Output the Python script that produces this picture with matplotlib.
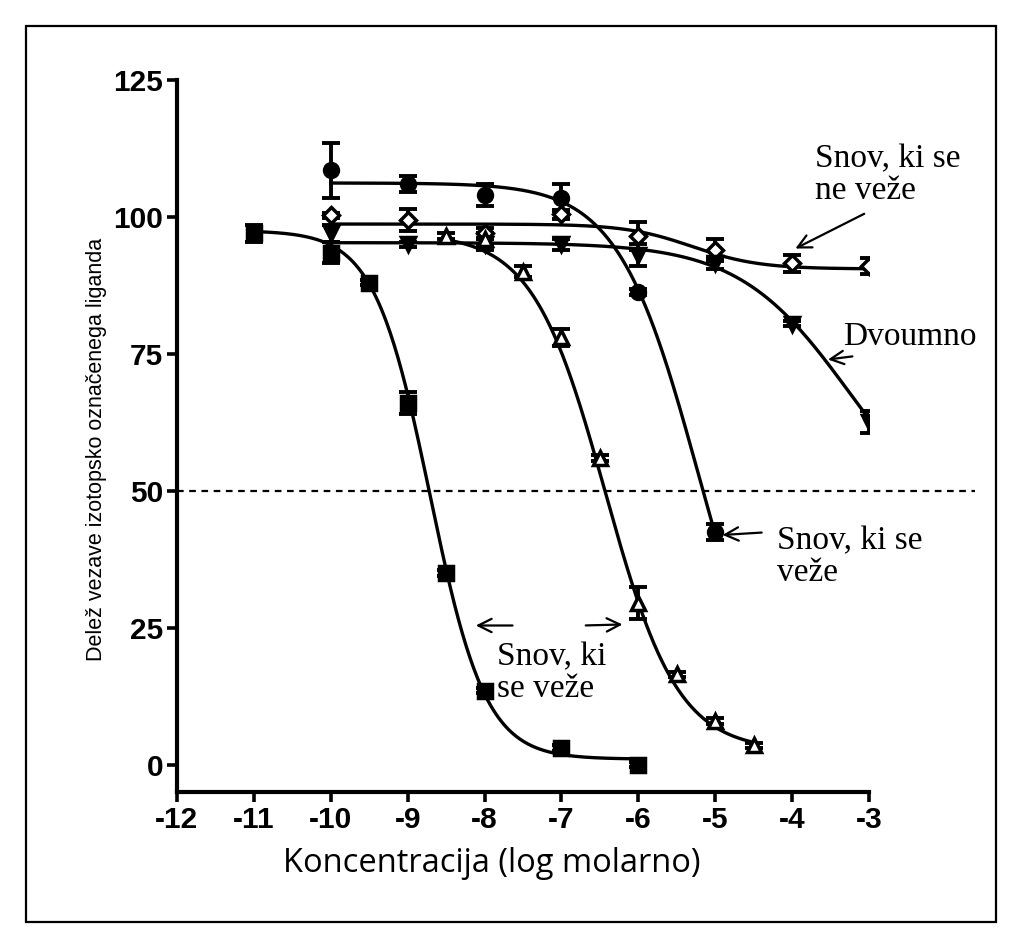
import matplotlib
matplotlib.use('Agg')
import matplotlib.pyplot as plt
from matplotlib.patches import Rectangle
import numpy as np

plt.rcParams['axes.unicode_minus'] = False

# data (log molar concentration, % bound)
sq_x = [-11, -10, -9.5, -9, -8.5, -8, -7, -6]
sq_y = [97, 93.5, 88, 66, 35, 13.5, 3, 0]
sq_err = [1.5, 2, 0.5, 2, 0.5, 0.5, 0.5, 0.5]

ci_x = [-10, -9, -8, -7, -6, -5]
ci_y = [108.5, 106, 104, 103.5, 86.3, 42.5]
ci_err = [5, 1.5, 2, 2.5, 0.5, 1.5]

di_x = [-10, -9, -8, -7, -6, -5, -4, -3]
di_y = [100.3, 99.5, 97, 100.5, 96.5, 94, 91.5, 91]
di_err = [0.5, 2, 1, 0.8, 2.5, 2, 1.5, 1.5]

vt_x = [-10, -9, -8, -7, -6, -5, -4, -3]
vt_y = [97, 95, 95, 95, 93, 91.5, 80.5, 62.5]
vt_err = [1.5, 0.5, 1, 1, 2, 1, 0.5, 2]

tr_x = [-8.5, -8, -7.5, -7, -6.5, -6, -5.5, -5, -4.5]
tr_y = [96.5, 96, 90, 78, 56, 29.5, 16.5, 8, 3.5]
tr_err = [0.5, 1, 1, 1.5, 0.5, 3, 0.5, 0.5, 0.5]

# sigmoidal fit parameters: top, bottom, logIC50, hill slope
sq_fit = [97.5, 1.0, -8.71, 1.2]
ci_fit = [106.2, 0.0, -5.22, 0.83]
di_fit = [98.7, 90.5, -5.3, 1.0]
vt_fit = [95.3, 40.0, -3.24, 0.6]
tr_fit = [97.0, 2.5, -6.43, 0.92]


def curve(fit, x):
    top, bottom, ic50, h = fit
    return bottom + (top - bottom) / (1 + 10 ** ((x - ic50) * h))


fig = plt.figure(figsize=(10.22, 9.49), dpi=100)
fig.patches.append(Rectangle((26 / 1022, 1 - 922 / 949), 970 / 1022, 896 / 949,
                             transform=fig.transFigure, fill=False,
                             edgecolor='black', linewidth=1.6))
ax = fig.add_axes([177 / 1022, 1 - 792 / 949, 692 / 1022, 712 / 949])

series = [
    (sq_x, sq_y, sq_err, sq_fit, 's', 'black'),
    (ci_x, ci_y, ci_err, ci_fit, 'o', 'black'),
    (di_x, di_y, di_err, di_fit, 'D', 'white'),
    (vt_x, vt_y, vt_err, vt_fit, 'v', 'black'),
    (tr_x, tr_y, tr_err, tr_fit, '^', 'white'),
]
for xs, ys, errs, fit, mk, fc in series:
    xx = np.linspace(min(xs), max(xs), 300)
    ax.plot(xx, curve(fit, xx), color='black', linewidth=2.4, zorder=2)
    ax.errorbar(xs, ys, yerr=errs, fmt='none', ecolor='black', elinewidth=2.8,
                capsize=6.5, capthick=2.8, zorder=3)
    ms = 8 if mk == 'D' else 10
    ax.plot(xs, ys, linestyle='none', marker=mk, markersize=ms,
            markerfacecolor=fc, markeredgecolor='black', markeredgewidth=2.5,
            zorder=4)

# 50 % line
ax.plot([-12, -1.62], [50, 50], linestyle=(0, (3, 2.5)), color='black',
        linewidth=1.6, clip_on=False, zorder=1)

ax.set_xlim(-12, -3)
ax.set_ylim(-5, 125)
ax.set_xticks(range(-12, -2))
ax.set_yticks([0, 25, 50, 75, 100, 125])
ax.spines['top'].set_visible(False)
ax.spines['right'].set_visible(False)
ax.spines['left'].set_linewidth(3)
ax.spines['bottom'].set_linewidth(3)
ax.tick_params(direction='out', length=7, width=2.6, pad=3)
for lab in ax.get_xticklabels() + ax.get_yticklabels():
    lab.set_fontfamily('Liberation Sans')
    lab.set_fontweight('bold')
    lab.set_fontsize(21.5)

fig.text(492 / 1022, 1 - 864 / 949, 'Koncentracija (log molarno)', fontsize=23.5,
         family=['Open Sans', 'DejaVu Sans'], ha='center', va='center')
fig.text(97 / 1022, 1 - 449 / 949, 'Delež vezave izotopsko označenega liganda',
         fontsize=15.5, rotation=90, ha='center', va='center',
         family=['Liberation Sans Narrow', 'Liberation Sans'])

serif = ['Liberation Serif', 'DejaVu Serif']
tkw = dict(fontsize=24, family=serif, va='center', ha='left', clip_on=False,
           linespacing=1.05)
ax.text(-3.70, 107.6, 'Snov, ki se\nne veže', **tkw)
ax.text(-3.34, 78.1, 'Dvoumno', **tkw)
ax.text(-4.20, 38.0, 'Snov, ki se\nveže', **tkw)
ax.text(-7.84, 16.7, 'Snov, ki\nse veže', **tkw)

akw = dict(arrowstyle='->', color='black', lw=1.6, mutation_scale=24)
ax.annotate('', xy=(-3.99, 94.0), xytext=(-3.03, 100.8),
            arrowprops=akw, annotation_clip=False)
ax.annotate('', xy=(-3.57, 73.9), xytext=(-3.18, 74.6),
            arrowprops=akw, annotation_clip=False)
ax.annotate('', xy=(-4.94, 41.9), xytext=(-4.36, 42.4),
            arrowprops=akw, annotation_clip=False)
ax.annotate('', xy=(-8.15, 25.4), xytext=(-7.60, 25.4),
            arrowprops=akw, annotation_clip=False)
ax.annotate('', xy=(-6.17, 25.6), xytext=(-6.72, 25.4),
            arrowprops=akw, annotation_clip=False)

fig.savefig('out.png', dpi=100)
